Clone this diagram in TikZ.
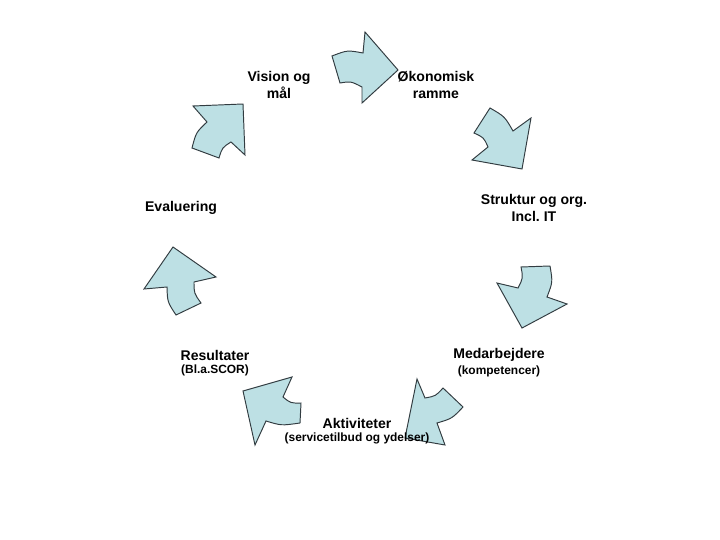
\documentclass[tikz,border=0pt]{standalone}
\usepackage{fontspec}
\setmainfont{Liberation Sans}
\usetikzlibrary{positioning,calc}
\definecolor{piecefill}{RGB}{189,224,228}
\definecolor{pieceline}{RGB}{50,60,65}
\tikzset{
  piece/.style = {draw=pieceline,fill=piecefill,line width=0.55pt,line join=miter},
  lbl/.style   = {align=center,inner sep=1pt,
                  font=\fontsize{8}{9.2}\selectfont\bfseries\frenchspacing},
  sub/.style   = {align=center,inner sep=1pt,
                  font=\fontsize{6.8}{8}\selectfont\bfseries},
}
% tail-out, notch-out, head-out, tip, head-in, notch-in, tail-in
% shaft sides bulge away from the ring centre (ctr)
\newcommand{\bentarrow}[7]{%
  \filldraw[piece] #1 .. controls ($($#1!0.5!#2$)!-0.022!(ctr)$) .. #2
    -- #3 -- #4 -- #5 -- #6
    .. controls ($($#6!0.5!#7$)!-0.022!(ctr)$) .. #7 -- cycle;}

\begin{document}
\begin{tikzpicture}[x={(0.02cm,0)},y={(0,-0.02cm)}]
  \useasboundingbox (0,0) rectangle (720,540);
  \coordinate (ctr) at (355,255);
  % the seven arrow pieces, clockwise from the top
  \bentarrow{(332,56)}{(363,53)}{(365,32)}{(398,70)}{(362,103)}{(362,87)}{(340,83)}
  \bentarrow{(490,108)}{(513,131)}{(531,118)}{(522,169)}{(472,160)}{(488,147)}{(474,133)}
  \bentarrow{(550,266)}{(547,297)}{(567,304)}{(522,328)}{(497,283)}{(518,288)}{(521,267)}
  \bentarrow{(463,407)}{(437,423)}{(445,445)}{(405,438)}{(417,379)}{(425,398)}{(443,388)}
  \bentarrow{(300,423)}{(266,421)}{(255,445)}{(243,391)}{(292,377)}{(283,397)}{(301,403)}
  \bentarrow{(176,315)}{(167,287)}{(144,289)}{(173,247)}{(216,277)}{(194,282)}{(201,303)}
  \bentarrow{(192,148)}{(207,122)}{(193,106)}{(243,104)}{(245,155)}{(231,142)}{(219,158)}

  \node[lbl] (vision)  at (279,85)  {Vision og\\mål};
  \node[lbl] (oekonomi) at (436,85) {Økonomisk\\ramme};
  \node[lbl] (struktur) at (534,208) {Struktur og org.\\Incl. IT};
  \node[lbl] (medarb)  at (499,355) {Medarbejdere};
  \node[sub, below=0pt of medarb] (kompet) {(kompetencer)};
  \node[lbl] (aktiv)   at (357,423) {Aktiviteter};
  \node[sub, below=0pt of aktiv] (service) {(servicetilbud og ydelser)};
  \node[lbl] (result)  at (215,355) {Resultater};
  \node[sub, below=0pt of result] (scor) {(Bl.a.SCOR)};
  \node[lbl] (evalu)   at (181,208) {Evaluering};
\end{tikzpicture}
\end{document}
